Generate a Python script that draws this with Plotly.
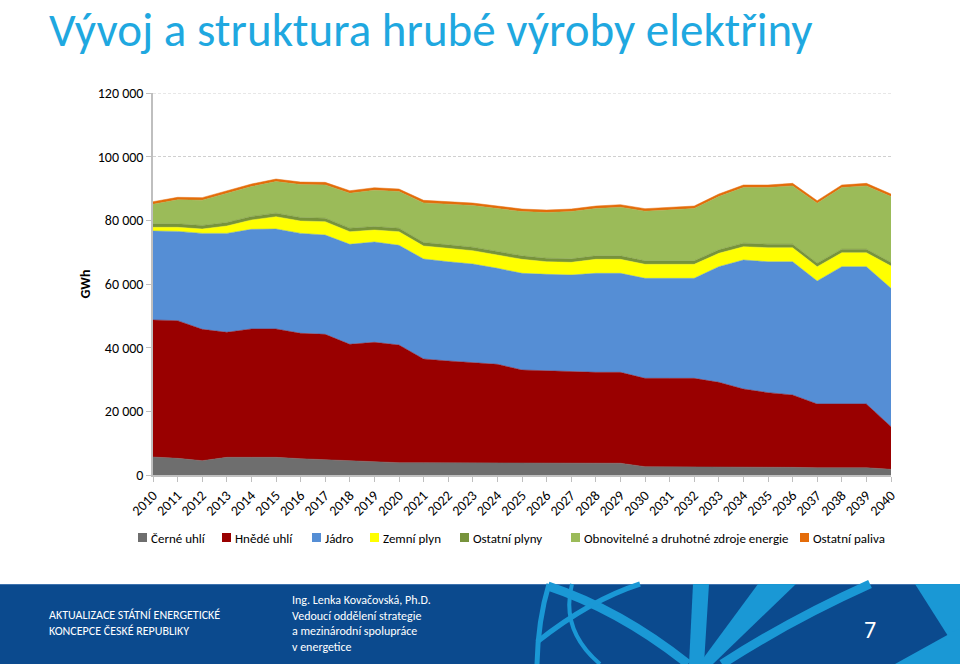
import plotly.graph_objects as go

years = list(range(2010, 2041))

# cumulative boundaries (GWh)
cerne_uhli = [5650, 5240, 4500, 5550, 5550, 5550, 5120, 4820, 4700, 4400, 3870,
              3870, 3870, 3870, 3870, 3870, 3870, 3870, 3700, 3700, 2620,
              2620, 2620, 2620, 2620, 2620, 2400, 2300, 2300, 2300, 1780]
top_hnede = [48690, 48470, 45760, 44820, 45860, 45860, 44500, 44190, 41050, 41680, 40830,
             36440, 35810, 35290, 34770, 32980, 32670, 32450, 32250, 32250, 30370,
             30360, 30360, 29120, 27010, 25860, 25130, 22300, 22300, 22300, 15180]
top_jadro = [76640, 76530, 75900, 75900, 77170, 77270, 75900, 75380, 72460, 73190, 72150,
             67850, 66990, 66270, 64930, 63350, 63030, 62820, 63350, 63350, 61780,
             61780, 61780, 65430, 67530, 66990, 66990, 60940, 65430, 65430, 58640]
top_plyn = [77800, 77800, 77270, 78210, 80100, 81130, 79780, 79570, 76420, 76950, 76420,
            71930, 71200, 70460, 69100, 67750, 67000, 66800, 67750, 67750, 66180,
            66180, 66180, 69630, 71710, 71400, 71400, 65430, 69830, 69830, 65650]
ostatni_plyny = [1100] * 31
ostatni_paliva = [800] * 31
total = [85850, 87230, 87130, 89300, 91400, 92970, 92030, 91930, 89300, 90240, 89830,
         86280, 85850, 85430, 84490, 83550, 83240, 83550, 84490, 84910, 83660,
         83970, 84490, 88260, 91090, 91090, 91610, 86170, 91090, 91610, 88260]

hnede_uhli = [a - b for a, b in zip(top_hnede, cerne_uhli)]
jadro = [a - b for a, b in zip(top_jadro, top_hnede)]
zemni_plyn = [a - b for a, b in zip(top_plyn, top_jadro)]
obnovitelne = [t - p - g - o for t, p, g, o in zip(total, ostatni_paliva, top_plyn, ostatni_plyny)]

names = ["Černé uhlí", "Hnědé uhlí", "Jádro", "Zemní plyn", "Ostatní plyny",
         "Obnovitelné a druhotné zdroje energie", "Ostatní paliva"]
series = [cerne_uhli, hnede_uhli, jadro, zemni_plyn, ostatni_plyny, obnovitelne, ostatni_paliva]
colors = ["#6E6E6E", "#990000", "#558ED5", "#FFFF00", "#77933C", "#9BBB59", "#E46C0A"]

FONT = "Carlito, Lato, sans-serif"
W, H = 960, 664
L, R, T, B = 153, 891, 93, 475  # plot area pixels


def px(x):
    return (x - L) / (R - L)


def py(y):
    return (B - y) / (B - T)


fig = go.Figure()
for n, s, c in zip(names, series, colors):
    fig.add_trace(go.Scatter(x=years, y=s, name=n, stackgroup="one", mode="lines",
                             line=dict(width=0.5, color=c), fillcolor=c, showlegend=False,
                             hoverinfo="x+y+name"))

shapes = []
annotations = []

GRID_DASH = "3px,2px"
# top gridline (at the edge of the value range)
shapes.append(dict(type="line", xref="paper", yref="y", layer="below",
                   x0=0, x1=1, y0=120000, y1=120000,
                   line=dict(color="#D0D0D0", width=1, dash=GRID_DASH)))

# manual legend
legend_x = [138, 222, 312, 370, 460, 571, 800]
for lx, n, c in zip(legend_x, names, colors):
    shapes.append(dict(type="rect", xref="paper", yref="paper",
                       x0=px(lx), x1=px(lx + 9), y0=py(542), y1=py(533),
                       fillcolor=c, line=dict(width=0)))
    annotations.append(dict(text=n, xref="paper", yref="paper", x=px(lx + 11), y=py(538),
                            xanchor="left", yanchor="middle", showarrow=False,
                            font=dict(family=FONT, size=13, color="#000000")))

# footer background
DARK = "#0B4A8E"
LIGHT = "#1A98D5"
shapes.append(dict(type="rect", xref="paper", yref="paper", layer="below",
                   x0=px(0), x1=px(W), y0=py(H), y1=py(584),
                   fillcolor=DARK, line=dict(width=0)))
shapes.append(dict(type="line", xref="paper", yref="paper",
                   x0=px(0), x1=px(W), y0=py(584.5), y1=py(584.5),
                   line=dict(color="#3D72AE", width=1)))


def path(pts, close=True):
    s = "M " + " L ".join(f"{px(x)},{py(y)}" for x, y in pts)
    return s + (" Z" if close else "")


def curve(p0, c, p1):
    return f"M {px(p0[0])},{py(p0[1])} Q {px(c[0])},{py(c[1])} {px(p1[0])},{py(p1[1])}"


deco_lines = [
    (curve((537, 664), (538, 620), (549, 584)), 5),
    (curve((572, 584), (560, 630), (600, 664)), 4),
    (curve((548, 586), (620, 610), (688, 664)), 9),
    (curve((537, 642), (590, 600), (640, 584)), 5),
    (curve((870, 584), (790, 620), (722, 664)), 9),
]
for d, w in deco_lines:
    shapes.append(dict(type="path", xref="paper", yref="paper", path=d,
                       line=dict(color=LIGHT, width=w)))
deco_polys = [
    [(693, 584), (709, 584), (704, 664), (689, 664)],
    [(758, 584), (796, 584), (713, 664), (699, 664)],
    [(915, 584), (960, 584), (960, 632), (948, 636)],
    [(895, 664), (960, 628), (960, 664)],
]
for p in deco_polys:
    shapes.append(dict(type="path", xref="paper", yref="paper", path=path(p),
                       fillcolor=LIGHT, line=dict(width=0)))

# footer texts
annotations.append(dict(text="AKTUALIZACE STÁTNÍ ENERGETICKÉ<br>KONCEPCE ČESKÉ REPUBLIKY",
                        xref="paper", yref="paper", x=px(47), y=py(623), xanchor="left",
                        yanchor="middle", align="left", showarrow=False,
                        font=dict(family=FONT, size=12, color="white")))
annotations.append(dict(text="Ing. Lenka Kovačovská, Ph.D.<br>Vedoucí oddělení strategie<br>"
                             "a mezinárodní spolupráce<br>v energetice",
                        xref="paper", yref="paper", x=px(290), y=py(623), xanchor="left",
                        yanchor="middle", align="left", showarrow=False,
                        font=dict(family=FONT, size=12, color="white")))
annotations.append(dict(text="7", xref="paper", yref="paper", x=px(870), y=py(629),
                        xanchor="center", yanchor="middle", showarrow=False,
                        font=dict(family=FONT, size=24, color="white")))

# title
annotations.append(dict(text="Vývoj a struktura hrubé výroby elektřiny", xref="paper", yref="paper",
                        x=px(48), y=py(0), xanchor="left", yanchor="top", showarrow=False,
                        borderpad=0,
                        font=dict(family=FONT, size=47, color="#1FA8E0")))

fig.update_layout(
    width=W, height=H, autosize=False,
    margin=dict(l=L, r=W - R, t=T, b=H - B, pad=0),
    paper_bgcolor="white", plot_bgcolor="white",
    separators=", ",
    font=dict(family=FONT, size=13, color="#000000"),
    shapes=shapes, annotations=annotations,
    hovermode="x unified",
)
fig.update_xaxes(range=[2010, 2040], tickmode="array", tickvals=years,
                 ticktext=[str(y) for y in years], tickangle=-45,
                 showline=True, linecolor="#BFBFBF", linewidth=1.5,
                 ticks="outside", ticklen=5, tickcolor="#BFBFBF",
                 showgrid=False, zeroline=False, tickfont=dict(size=14))
fig.update_yaxes(range=[0, 120000], dtick=20000, tickformat=",d",
                 showline=True, linecolor="#BFBFBF", linewidth=1.5,
                 ticks="outside", ticklen=5, tickcolor="#BFBFBF",
                 showgrid=True, gridcolor="#D0D0D0", griddash=GRID_DASH, gridwidth=1,
                 zeroline=False, tickfont=dict(size=14),
                 title=dict(text="<b>GWh</b>", font=dict(size=14), standoff=4))

fig.write_html("out.html")
